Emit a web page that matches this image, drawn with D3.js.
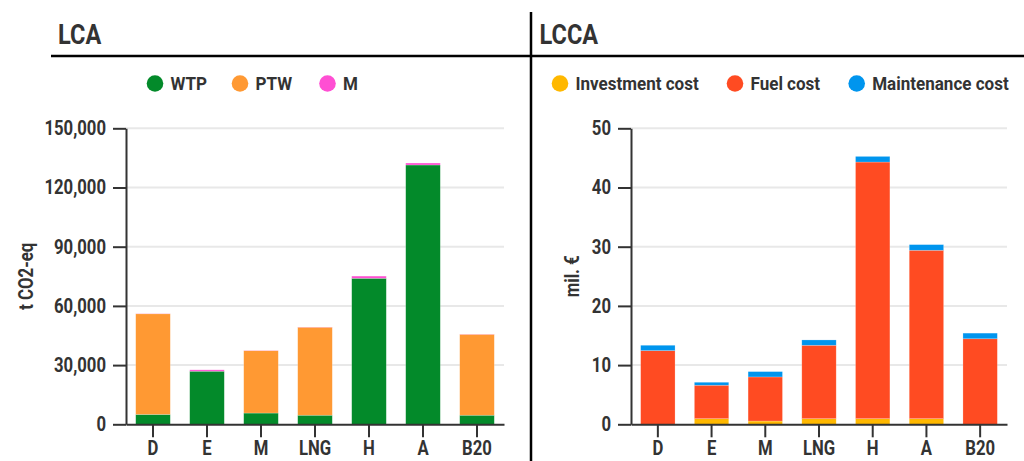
<!DOCTYPE html>
<html>
<head>
<meta charset="utf-8">
<script src="https://cdn.jsdelivr.net/npm/d3@7/dist/d3.min.js"></script>
<style>
  html, body { margin: 0; padding: 0; background: #fff; }
  svg text { font-family: Roboto, "Noto Sans", sans-serif; font-weight: 700; fill: #333; }
</style>
</head>
<body>
<svg id="chart" width="1024" height="461"></svg>
<script>
// ---------- data ----------
const categories = ["D", "E", "M", "LNG", "H", "A", "B20"];

// LCA (t CO2-eq)
const lcaSeries = ["WTP", "PTW", "M"];
const lcaWTP = [5000, 26900, 5700, 4600, 74000, 131400, 4600];
const lcaPTW = [51000, 0, 31600, 44600, 0, 0, 41000];
const lcaM   = [100, 700, 100, 100, 1100, 1000, 100];
const lcaTicks = [0, 30000, 60000, 90000, 120000, 150000];

// LCCA (mil. €)
const lccaSeries = ["Investment cost", "Fuel cost", "Maintenance cost"];
const lccaInvest = [0, 0.95, 0.55, 0.95, 0.95, 0.95, 0];
const lccaFuel   = [12.45, 5.65, 7.45, 12.4, 43.35, 28.45, 14.45];
const lccaMaint  = [0.9, 0.5, 0.9, 0.9, 0.95, 0.95, 0.95];
const lccaTicks = [0, 10, 20, 30, 40, 50];

const lcaColors  = ["#038a2a", "#ff9933", "#ff4fd3"];
const lccaColors = ["#ffb800", "#ff4b22", "#0095ee"];

// ---------- drawing ----------
const svg = d3.select("#chart");

function panel(opts) {
  const g = svg.append("g");
  const x = d3.scaleBand().domain(categories).range([opts.x0, opts.x1])
    .paddingInner(0.36).paddingOuter(0.18);
  const y = d3.scaleLinear().domain([0, opts.max]).range([424.3, 128.3]);

  // gridlines
  g.append("g").selectAll("line").data(opts.ticks.filter(d => d > 0)).join("line")
    .attr("x1", opts.x0).attr("x2", opts.x1)
    .attr("y1", d => y(d)).attr("y2", d => y(d))
    .attr("stroke", "#e8e8e8").attr("stroke-width", 2);

  // stacked bars
  const rows = categories.map((c, i) => {
    const r = { cat: c };
    opts.series.forEach((s, k) => r[s] = opts.values[k][i]);
    return r;
  });
  const stacked = d3.stack().keys(opts.series)(rows);
  g.append("g").selectAll("g").data(stacked).join("g")
    .attr("fill", (d, k) => opts.colors[k])
    .selectAll("rect").data(d => d).join("rect")
    .attr("x", d => x(d.data.cat))
    .attr("width", x.bandwidth())
    .attr("y", d => y(d[1]))
    .attr("height", d => Math.max(0, y(d[0]) - y(d[1])))
    .attr("stroke", "#ffffff").attr("stroke-opacity", 0.35).attr("stroke-width", 0.6);

  // y axis
  const ya = g.append("g").attr("transform", `translate(${opts.x0},0)`)
    .call(d3.axisLeft(y).tickValues(opts.ticks).tickSize(13).tickSizeOuter(0)
      .tickPadding(7).tickFormat(opts.fmt));
  ya.select(".domain").attr("stroke", "#333").attr("stroke-width", 2);
  ya.selectAll(".tick line").attr("stroke", "#333").attr("stroke-width", 2);
  ya.selectAll("text").style("font-size", "20px").attr("fill", "#333").attr("data-cond", 0.835);

  // x axis
  const xa = g.append("g").attr("transform", `translate(0,${y(0)})`)
    .call(d3.axisBottom(x).tickSize(13).tickSizeOuter(0).tickPadding(4));
  xa.select(".domain").attr("stroke", "#333").attr("stroke-width", 2);
  xa.selectAll(".tick line").attr("stroke", "#333").attr("stroke-width", 2);
  xa.selectAll("text").style("font-size", "20px").attr("fill", "#333").attr("data-cond", 0.835);

  // axis title
  g.append("text")
    .attr("transform", `translate(${opts.titleX},${(y(0) + y(opts.max)) / 2}) rotate(-90)`)
    .attr("text-anchor", "middle").attr("dy", "0.35em")
    .style("font-size", "19.5px").attr("data-cond", 0.86).text(opts.yTitle);

  // panel title
  g.append("text").attr("x", opts.headX).attr("y", 44)
    .style("font-size", "28px").attr("data-cond", 0.84).text(opts.head);

  // legend
  const lg = g.append("g").selectAll("g").data(opts.series).join("g")
    .attr("transform", (d, k) => `translate(${opts.legendX[k]},83.5)`);
  lg.append("circle").attr("r", 8.3).attr("fill", (d, k) => opts.colors[k]);
  lg.append("text").attr("x", 15.5).attr("dy", "0.36em")
    .style("font-size", "18.5px").attr("data-cond", 0.92).text(d => d);
}

panel({
  x0: 126, x1: 504, max: 150000, ticks: lcaTicks, fmt: d3.format(","),
  series: lcaSeries, values: [lcaWTP, lcaPTW, lcaM], colors: lcaColors,
  yTitle: "t CO2-eq", titleX: 26, head: "LCA", headX: 58,
  legendX: [155, 240, 327.5]
});
panel({
  x0: 631, x1: 1007, max: 50, ticks: lccaTicks, fmt: d3.format("d"),
  series: lccaSeries, values: [lccaInvest, lccaFuel, lccaMaint], colors: lccaColors,
  yTitle: "mil. €", titleX: 572.5, head: "LCCA", headX: 539.5,
  legendX: [560, 735, 856.7]
});

// separators
svg.append("line").attr("x1", 51).attr("x2", 1024).attr("y1", 56).attr("y2", 56)
  .attr("stroke", "#000").attr("stroke-width", 2.5);
svg.append("line").attr("x1", 531).attr("x2", 531).attr("y1", 12).attr("y2", 461)
  .attr("stroke", "#000").attr("stroke-width", 2.5);

// emulate a condensed face
svg.selectAll("text").each(function () {
  const w = this.getComputedTextLength();
  const f = +(this.getAttribute("data-cond") || 0.86);
  if (w > 0) {
    d3.select(this).attr("textLength", w * f).attr("lengthAdjust", "spacingAndGlyphs");
  }
});
</script>
</body>
</html>
